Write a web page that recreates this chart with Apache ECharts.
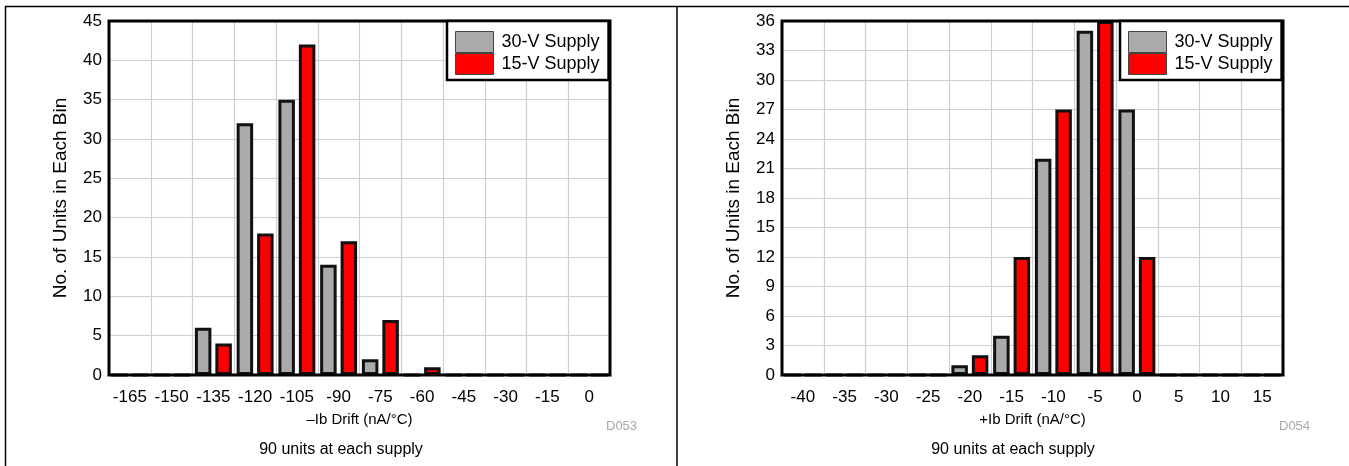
<!DOCTYPE html>
<html>
<head>
<meta charset="utf-8">
<script src="https://cdn.jsdelivr.net/npm/echarts@6/dist/echarts.min.js"></script>
<style>
  html, body { margin: 0; padding: 0; background: #fff; }
  #chart { width: 1349px; height: 466px; }
</style>
</head>
<body>
<div id="chart"></div>
<script>
// Histogram bins (nA/°C) and counts per bin for each supply voltage
const negBins = ['-165', '-150', '-135', '-120', '-105', '-90', '-75', '-60', '-45', '-30', '-15', '0'];
const negCounts30V = [0, 0, 6, 32, 35, 14, 2, 0, 0, 0, 0, 0];
const negCounts15V = [0, 0, 4, 18, 42, 17, 7, 1, 0, 0, 0, 0];

const posBins = ['-40', '-35', '-30', '-25', '-20', '-15', '-10', '-5', '0', '5', '10', '15'];
const posCounts30V = [0, 0, 0, 0, 1, 4, 22, 35, 27, 0, 0, 0];
const posCounts15V = [0, 0, 0, 0, 2, 12, 27, 36, 12, 0, 0, 0];

const seriesNames = ['30-V Supply', '15-V Supply'];
const negAxisTitle = '\u2013Ib Drift (nA/\u00B0C)';
const posAxisTitle = '+Ib Drift (nA/\u00B0C)';
const yAxisTitle = 'No. of Units in Each Bin';
const captionText = '90 units at each supply';
const figureIds = ['D053', 'D054'];

const FONT = '"Liberation Sans", Arial, Helvetica, sans-serif';
const GRAY = '#aaaaaa';
const RED = '#ff0000';
const GRID_LINE = '#cfcfcf';

const panels = [
  { left: 109, bins: negBins, a: negCounts30V, b: negCounts15V, max: 45, step: 5, title: negAxisTitle, id: figureIds[0] },
  { left: 782, bins: posBins, a: posCounts30V, b: posCounts15V, max: 36, step: 3, title: posAxisTitle, id: figureIds[1] }
];
const PLOT_W = 501, PLOT_H = 354, PLOT_TOP = 21;

const grids = [], xAxes = [], yAxes = [], series = [], legends = [], graphics = [];

panels.forEach((p, i) => {
  grids.push({ left: p.left, top: PLOT_TOP, width: PLOT_W, height: PLOT_H });
  xAxes.push({
    type: 'category', gridIndex: i, data: p.bins, boundaryGap: true,
    axisLine: { show: false }, axisTick: { show: false },
    axisLabel: { interval: 0, color: '#000', fontFamily: FONT, fontSize: 17, margin: 14 },
    splitLine: { show: true, interval: 0, lineStyle: { color: GRID_LINE, width: 1.2 } },
    name: p.title, nameLocation: 'middle', nameGap: 37,
    nameTextStyle: { color: '#000', fontFamily: FONT, fontSize: 15 }
  });
  yAxes.push({
    type: 'value', gridIndex: i, min: 0, max: p.max, interval: p.step,
    axisLine: { show: false }, axisTick: { show: false },
    axisLabel: { color: '#000', fontFamily: FONT, fontSize: 17, margin: 7 },
    splitLine: { show: true, lineStyle: { color: GRID_LINE, width: 1.2 } },
    name: yAxisTitle, nameLocation: 'middle', nameGap: 39,
    nameTextStyle: { color: '#000', fontFamily: FONT, fontSize: 19 }
  });
  [[p.a, GRAY], [p.b, RED]].forEach(([vals, color], k) => {
    series.push({
      type: 'bar', name: seriesNames[k], xAxisIndex: i, yAxisIndex: i, data: vals,
      barWidth: 16.5, barGap: '24%',
      itemStyle: { color: color, borderColor: '#111', borderWidth: 3 },
      emphasis: { disabled: true }, animation: false
    });
  });
  legends.push({
    left: p.left + 338, top: PLOT_TOP, orient: 'vertical', z: 6,
    data: seriesNames, itemWidth: 38, itemHeight: 21, itemGap: 0,
    padding: [10, 9, 5, 8], borderColor: '#000', borderWidth: 2.5, backgroundColor: '#fff',
    selectedMode: false, icon: 'rect',
    itemStyle: { borderColor: '#444', borderWidth: 1 },
    textStyle: { color: '#000', fontFamily: FONT, fontSize: 18, lineHeight: 21, padding: [0, 0, 0, 3] }
  });
  // Heavy frame around the plotting area
  graphics.push({
    type: 'rect', z: 5,
    shape: { x: p.left, y: PLOT_TOP, width: PLOT_W, height: PLOT_H },
    style: { fill: null, stroke: '#000', lineWidth: 3 }
  });
  graphics.push({
    type: 'text', left: p.left + PLOT_W - 4, top: 420,
    style: { text: p.id, fill: '#a8a8a8', font: '13px ' + FONT }
  });
});

// Table frame around the two panels
graphics.push(
  { type: 'line', shape: { x1: 5, y1: 6.5, x2: 1349, y2: 6.5 }, style: { stroke: '#000', lineWidth: 1.5 } },
  { type: 'line', shape: { x1: 5.5, y1: 6, x2: 5.5, y2: 466 }, style: { stroke: '#000', lineWidth: 1.5 } },
  { type: 'line', shape: { x1: 677, y1: 6, x2: 677, y2: 466 }, style: { stroke: '#000', lineWidth: 1.5 } }
);
[341, 1013].forEach(cx => {
  graphics.push({
    type: 'text', x: cx, y: 450,
    style: { text: captionText, fill: '#000', font: '16px ' + FONT, textAlign: 'center', textVerticalAlign: 'middle' }
  });
});

const chart = echarts.init(document.getElementById('chart'), null, { renderer: 'canvas' });
chart.setOption({
  animation: false,
  backgroundColor: '#fff',
  grid: grids, xAxis: xAxes, yAxis: yAxes, series: series,
  legend: legends, graphic: graphics
});
</script>
</body>
</html>
